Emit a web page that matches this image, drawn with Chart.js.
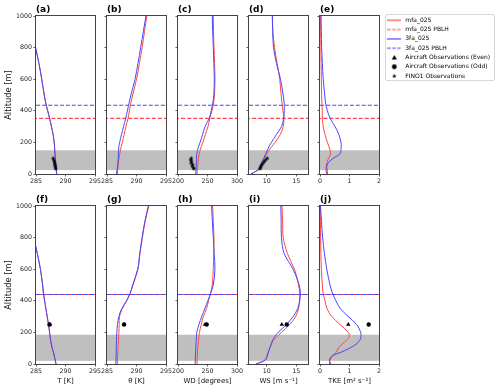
<!DOCTYPE html>
<html>
<head>
<meta charset="utf-8">
<script src="https://cdn.jsdelivr.net/npm/chart.js@4"></script>
<style>
  body { margin: 0; background: #fff; }
  #fig { position: relative; width: 500px; height: 390px; overflow: hidden; }
  #fig canvas { position: absolute; }
  #legendBox { position: absolute; left: 385px; top: 14px; width: 110px; height: 67px;
    border: 1px solid #d8d8d8; border-radius: 2px; box-sizing: border-box; }
</style>
</head>
<body>
<div id="fig"><div id="legendBox"></div></div>
<script>
// altitude levels [m] shared by all model profiles
const levels = [0, 25, 50, 75, 100, 125, 150, 175, 200, 250, 300, 350, 400, 450, 500, 600, 700, 800, 900, 1000];

// top row (a)-(e)
const tempMfaTop  = [288.5, 288.45, 288.4, 288.33, 288.27, 288.22, 288.18, 288.14, 288.08, 287.9, 287.62, 287.32, 286.98, 286.65, 286.4, 285.97, 285.5, 284.92, null, null];
const temp3faTop  = [288.5, 288.45, 288.4, 288.33, 288.27, 288.22, 288.18, 288.14, 288.08, 287.9, 287.62, 287.32, 286.98, 286.65, 286.4, 285.97, 285.5, 284.92, null, null];
const thetaMfaTop = [286.75, 286.8, 286.88, 286.95, 287.05, 287.15, 287.28, 287.42, 287.6, 287.9, 288.2, 288.55, 288.8, 289.05, 289.35, 290.0, 290.5, 290.95, 291.35, 291.75];
const theta3faTop = [286.6, 286.7, 286.8, 286.85, 286.9, 286.93, 286.96, 287.0, 287.15, 287.45, 287.8, 288.15, 288.45, 288.75, 289.05, 289.75, 290.25, 290.7, 291.15, 291.6];
const wdMfaTop    = [232, 232.6, 233.3, 233.9, 234.6, 235.9, 237.4, 239.6, 241.9, 246.5, 250.8, 253.8, 257.5, 260.3, 261.8, 262.6, 262, 261, 260.3, 259.8];
const wd3faTop    = [230.2, 230.5, 230.8, 231.0, 231.3, 231.9, 232.9, 235, 237.4, 241.6, 245.8, 252.7, 256.3, 259, 260.8, 261.5, 260.8, 259.8, 258.8, 258.1];
const wsMfaTop    = [7.3, 8.5, 8.97, 9.3, 9.6, 9.95, 10.4, 10.9, 11.4, 12.3, 12.8, 12.9, 12.75, 12.58, 12.45, 12.2, 11.78, 11.33, 11.05, 10.93];
const ws3faTop    = [7.3, 8.5, 8.85, 9.2, 9.5, 9.8, 10.09, 10.4, 10.8, 11.66, 12.5, 12.88, 12.98, 12.95, 12.79, 12.34, 11.66, 11.16, 11.02, 10.99];
const tkeMfaTop   = [0.23, 0.2, 0.21, 0.24, 0.29, 0.36, 0.34, 0.3, 0.25, 0.17, 0.11, 0.08, 0.075, 0.065, 0.055, 0.045, 0.037, 0.03, 0.025, 0.02];
const tke3faTop   = [0.25, 0.24, 0.23, 0.3, 0.45, 0.67, 0.71, 0.72, 0.71, 0.64, 0.51, 0.35, 0.25, 0.19, 0.16, 0.11, 0.08, 0.056, 0.044, 0.034];

// bottom row (f)-(j)
const tempMfaBot  = [288.4, 288.25, 288.1, 287.95, 287.75, 287.6, 287.48, 287.38, 287.3, 287.12, 286.9, 286.68, 286.46, 286.25, 286.12, 285.75, 285.22, 284.6, null, null];
const temp3faBot  = [288.4, 288.25, 288.1, 287.95, 287.75, 287.6, 287.48, 287.38, 287.3, 287.12, 286.9, 286.68, 286.46, 286.25, 286.12, 285.75, 285.22, 284.6, null, null];
const thetaMfaBot = [286.74, 286.77, 286.8, 286.84, 286.87, 286.9, 286.94, 286.98, 287.02, 287.06, 287.12, 287.6, 288.35, 288.95, 289.4, 290.25, 290.6, 291.0, 291.45, 292.1];
const theta3faBot = [286.5, 286.52, 286.54, 286.56, 286.57, 286.58, 286.6, 286.62, 286.66, 286.78, 287.0, 287.5, 288.3, 288.95, 289.35, 290.2, 290.55, 290.95, 291.4, 292.0];
const wdMfaBot    = [232, 232.4, 232.8, 233.1, 233.5, 234.1, 234.8, 235.5, 236.3, 239.5, 243, 248.3, 251.8, 255.3, 258.1, 259.8, 260.6, 261, 259.8, 258.7];
const wd3faBot    = [229, 229.3, 229.6, 229.9, 230.2, 230.5, 230.9, 231.3, 231.8, 235.5, 240.2, 245.5, 250.6, 255.5, 259.8, 262.6, 261.3, 259.8, 258.3, 257];
const wsMfaBot    = [8.2, 9.7, 9.97, 10.25, 10.5, 10.8, 11.1, 11.8, 12.5, 13.9, 14.9, 15.4, 15.55, 15.6, 15.4, 14.7, 13.5, 12.8, 12.7, 12.6];
const ws3faBot    = [8.2, 9.8, 10.1, 10.3, 10.5, 10.75, 10.99, 11.4, 11.94, 13.35, 14.47, 15.25, 15.6, 15.7, 15.5, 14.47, 12.95, 12.5, 12.45, 12.39];
const tkeMfaBot   = [0.32, 0.34, 0.43, 0.55, 0.62, 0.75, 0.9, 0.99, 0.96, 0.68, 0.4, 0.24, 0.17, 0.1, 0.08, 0.045, 0.03, 0.02, 0.015, 0.01];
const tke3faBot   = [0.36, 0.32, 0.4, 0.72, 1.0, 1.22, 1.35, 1.39, 1.38, 1.24, 0.96, 0.69, 0.54, 0.42, 0.34, 0.23, 0.15, 0.09, 0.05, 0.02];

// PBLH [m] and shaded (rotor) band [m] for top / bottom row
const pblhMfa = [352, 440];
const pblh3fa = [435, 440];
const bandTop = [25, 150];
const bandBot = [20, 185];

// FINO1 mast observations (top row)
const finoAlt  = [33, 40, 50, 60, 70, 80, 90, 100];
const finoTemp = [288.35, 288.3, 288.25, 288.2, 288.15, 288.1, 288.0, 287.9];
const finoWd   = [227, 226, 224, 225, 222, 223, 221.5, 222.5];
const finoWs   = [8.85, 8.95, 9.05, 9.2, 9.4, 9.6, 9.85, 10.1];

// aircraft observations (bottom row): T, theta, WD, WS, TKE
const aircraftAlt  = 250;
const aircraftEven = [287.3, 287.9, 245.8, 12.56, 0.96];
const aircraftOdd  = [287.3, 287.9, 248.6, 13.4, 1.65];

// axes
const yTicks = [0, 200, 400, 600, 800, 1000];
const tempTicks = [285, 290, 295];
const wdTicks = [200, 250, 300];
const wsTicks = [10, 15];
const tkeTicks = [0, 1, 2];
const xLabels = ['T [K]', 'θ [K]', 'WD [degrees]', 'WS [m s⁻¹]', 'TKE [m² s⁻²]'];
const legendNames = ['mfa_025', 'mfa_025 PBLH', '3fa_025', '3fa_025 PBLH',
  'Aircraft Observations (Even)', 'Aircraft Observations (Odd)', 'FINO1 Observations'];

const RED = 'rgb(255,70,70)';
const BLUE = 'rgb(70,70,255)';
const FONT = 'DejaVu Sans';

const colLeft = [36, 107, 178, 249, 320];
const rowTop = [16, 206];

function starIcon(r) {
  const c = document.createElement('canvas');
  const s = Math.ceil(r * 2 + 2);
  c.width = s; c.height = s;
  const g = c.getContext('2d');
  g.fillStyle = '#000';
  g.beginPath();
  for (let i = 0; i < 10; i++) {
    const rr = i % 2 ? r * 0.45 : r;
    const a = -Math.PI / 2 + i * Math.PI / 5;
    g.lineTo(s / 2 + rr * Math.cos(a), s / 2 + rr * Math.sin(a));
  }
  g.closePath();
  g.fill();
  return c;
}

function lineIcon(color, dash) {
  const c = document.createElement('canvas');
  c.width = 14; c.height = 4;
  const g = c.getContext('2d');
  g.strokeStyle = color; g.lineWidth = 1.2; g.setLineDash(dash);
  g.beginPath(); g.moveTo(0, 2); g.lineTo(14, 2); g.stroke();
  return c;
}

function markerIcon(kind) {
  const c = document.createElement('canvas');
  c.width = 7; c.height = 7;
  const g = c.getContext('2d');
  g.fillStyle = '#000';
  g.beginPath();
  if (kind === 'triangle') {
    g.moveTo(3.5, 1); g.lineTo(6, 5.5); g.lineTo(1, 5.5);
  } else {
    g.arc(3.5, 3.5, 2.4, 0, Math.PI * 2);
  }
  g.closePath(); g.fill();
  return c;
}

const starImg = starIcon(2.2);

const profile = (vals) => levels.map((y, i) => ({x: vals[i], y})).filter(p => p.x !== null);
const pairs = (xs, ys) => xs.map((x, i) => ({x, y: ys[i]}));

const bandPlugin = {
  id: 'band',
  beforeDatasetsDraw(chart, args, opts) {
    const {ctx, chartArea: a, scales: {y}} = chart;
    const y0 = y.getPixelForValue(opts.range[0]);
    const y1 = y.getPixelForValue(opts.range[1]);
    ctx.save();
    ctx.fillStyle = 'rgba(128,128,128,0.5)';
    ctx.fillRect(a.left, y1, a.right - a.left, y0 - y1);
    ctx.restore();
  }
};

const framePlugin = {
  id: 'frame',
  afterDatasetsDraw(chart, args, opts) {
    const {ctx, chartArea: a} = chart;
    ctx.save();
    ctx.strokeStyle = '#444';
    ctx.lineWidth = 1;
    ctx.strokeRect(a.left - 0.5, a.top - 0.5, a.right - a.left + 1, a.bottom - a.top + 1);
    ctx.font = 'bold 9px ' + FONT;
    ctx.fillStyle = '#000';
    ctx.textBaseline = 'alphabetic';
    ctx.fillText(opts.label, a.left, a.top - 4.5);
    ctx.restore();
  }
};

const fig = document.getElementById('fig');

function makePanel(p) {
  const cv = document.createElement('canvas');
  cv.width = 121; cv.height = 198;
  cv.style.left = (colLeft[p.col] - 36) + 'px';
  cv.style.top = (rowTop[p.row] - 16) + 'px';
  fig.appendChild(cv);

  const xMin = p.lim[0], xMax = p.lim[1];
  const datasets = [
    {data: profile(p.fa3), borderColor: BLUE, borderWidth: 1, order: 2},
    {data: [{x: xMin, y: pblh3fa[p.row]}, {x: xMax, y: pblh3fa[p.row]}], borderColor: BLUE, borderWidth: 1.2,
      borderDash: [4, 2], order: 1},
    {data: profile(p.mfa), borderColor: RED, borderWidth: 1, order: 4},
    {data: [{x: xMin, y: pblhMfa[p.row]}, {x: xMax, y: pblhMfa[p.row]}], borderColor: RED, borderWidth: 1.2,
      borderDash: [4, 2], borderDashOffset: 3, order: 3}
  ];
  if (p.fino) {
    datasets.push({data: pairs(p.fino, finoAlt), showLine: false, pointStyle: starImg, pointRadius: 2.2, order: 0});
  }
  if (p.obs !== undefined) {
    datasets.push({data: [{x: aircraftEven[p.obs], y: aircraftAlt}], showLine: false, pointStyle: 'triangle',
      pointRadius: 2.6, backgroundColor: '#000', borderColor: '#000', borderWidth: 0, order: 0});
    datasets.push({data: [{x: aircraftOdd[p.obs], y: aircraftAlt}], showLine: false, pointStyle: 'circle',
      pointRadius: 2.2, backgroundColor: '#000', borderColor: '#000', borderWidth: 0, order: -1});
  }
  datasets.forEach(d => {
    d.tension = 0.35;
    d.fill = false;
    if (d.showLine !== false) d.pointRadius = 0;
  });

  const tickFont = {family: FONT, size: 6.3};
  new Chart(cv, {
    type: 'line',
    data: {datasets},
    options: {
      responsive: false,
      animation: false,
      events: [],
      layout: {padding: {left: 0, top: 16, right: 26, bottom: 0}},
      plugins: {
        legend: {display: false},
        tooltip: {enabled: false},
        band: {range: p.row === 0 ? bandTop : bandBot},
        frame: {label: p.label}
      },
      scales: {
        x: {
          type: 'linear', min: xMin, max: xMax,
          afterBuildTicks: s => { s.ticks = p.ticks.map(v => ({value: v})); },
          afterFit: s => { s.height = 24; },
          ticks: {autoSkip: false, maxRotation: 0, minRotation: 0, padding: 1, color: '#222', font: tickFont,
            callback: v => String(v)},
          grid: {display: true, drawOnChartArea: false, tickLength: 2.5, tickColor: '#333', tickWidth: 0.8},
          border: {display: false},
          title: {display: p.row === 1, text: xLabels[p.col], color: '#111',
            font: {family: FONT, size: 7}, padding: {top: 0, bottom: 2.8}}
        },
        y: {
          type: 'linear', min: 0, max: 1000,
          afterBuildTicks: s => { s.ticks = yTicks.map(v => ({value: v})); },
          afterFit: s => { s.width = 36; },
          ticks: {display: p.col === 0, padding: 1.5, color: '#222', font: tickFont, callback: v => String(v)},
          grid: {display: true, drawOnChartArea: false, tickLength: 2.5, tickColor: '#333', tickWidth: 0.8},
          border: {display: false},
          title: {display: p.col === 0, text: 'Altitude [m]', color: '#111',
            font: {family: FONT, size: 8.3}, padding: {top: 4, bottom: 0}}
        }
      }
    },
    plugins: [bandPlugin, framePlugin]
  });
}

const tempLim = [285, 295], wdLim = [200, 300], wsLim = [7, 17], tkeLim = [0, 2];
[
  {label: '(a)', row: 0, col: 0, lim: tempLim, ticks: tempTicks, mfa: tempMfaTop, fa3: temp3faTop, fino: finoTemp},
  {label: '(b)', row: 0, col: 1, lim: tempLim, ticks: tempTicks, mfa: thetaMfaTop, fa3: theta3faTop},
  {label: '(c)', row: 0, col: 2, lim: wdLim, ticks: wdTicks, mfa: wdMfaTop, fa3: wd3faTop, fino: finoWd},
  {label: '(d)', row: 0, col: 3, lim: wsLim, ticks: wsTicks, mfa: wsMfaTop, fa3: ws3faTop, fino: finoWs},
  {label: '(e)', row: 0, col: 4, lim: tkeLim, ticks: tkeTicks, mfa: tkeMfaTop, fa3: tke3faTop},
  {label: '(f)', row: 1, col: 0, lim: tempLim, ticks: tempTicks, mfa: tempMfaBot, fa3: temp3faBot, obs: 0},
  {label: '(g)', row: 1, col: 1, lim: tempLim, ticks: tempTicks, mfa: thetaMfaBot, fa3: theta3faBot, obs: 1},
  {label: '(h)', row: 1, col: 2, lim: wdLim, ticks: wdTicks, mfa: wdMfaBot, fa3: wd3faBot, obs: 2},
  {label: '(i)', row: 1, col: 3, lim: wsLim, ticks: wsTicks, mfa: wsMfaBot, fa3: ws3faBot, obs: 3},
  {label: '(j)', row: 1, col: 4, lim: tkeLim, ticks: tkeTicks, mfa: tkeMfaBot, fa3: tke3faBot, obs: 4}
].forEach(makePanel);

// legend (canvas made twice as wide as needed, since a side legend gets at most half of it)
const legendIcons = [
  lineIcon(RED, []), lineIcon(RED, [3.5, 1.5]), lineIcon(BLUE, []), lineIcon(BLUE, [3.5, 1.5]),
  markerIcon('triangle'), markerIcon('circle'), starIcon(2.3)
];
const lc = document.createElement('canvas');
lc.width = 240; lc.height = 150;
lc.style.left = '383px';
lc.style.top = '14px';
fig.appendChild(lc);
new Chart(lc, {
  type: 'line',
  data: {datasets: []},
  options: {
    responsive: false,
    animation: false,
    events: [],
    scales: {x: {display: false}, y: {display: false}},
    plugins: {
      tooltip: {enabled: false},
      legend: {
        position: 'left',
        align: 'start',
        labels: {
          usePointStyle: true,
          pointStyleWidth: 16,
          padding: 3.3,
          color: '#222',
          font: {family: FONT, size: 6},
          generateLabels: () => legendNames.map((t, i) => ({
            text: t, pointStyle: legendIcons[i], fillStyle: 'rgba(0,0,0,0)',
            strokeStyle: 'rgba(0,0,0,0)', lineWidth: 0, hidden: false, datasetIndex: i
          }))
        }
      }
    }
  }
});
</script>
</body>
</html>
